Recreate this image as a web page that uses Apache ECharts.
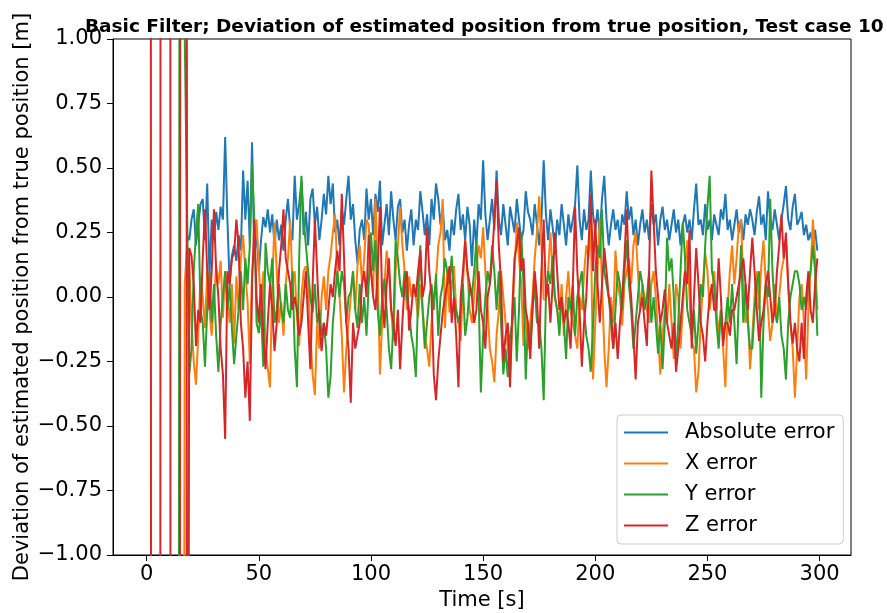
<!DOCTYPE html>
<html>
<head>
<meta charset="utf-8">
<script src="https://cdn.jsdelivr.net/npm/echarts@6/dist/echarts.min.js"></script>
<style>
  html, body { margin: 0; padding: 0; background: #fff; }
  #chart { width: 887px; height: 613px; }
</style>
</head>
<body>
<div id="chart"></div>
<script>
// one sample per second, t = 0 .. 299
var absErr = [
  5, 5, 5, 5, 5, 5, 5, 5, 5, 5,
  5, 5, 5, 5, 5, 5, 5, 5, 0.24, 0.22,
  0.3, 0.34, 0.2, 0.28, 0.36, 0.38, 0.22, 0.44, 0.08, 0.3,
  0.22, 0.33, 0.26, 0.35, 0.3, 0.62, 0.3, 0.05, 0.16, 0.2,
  0.14, 0.24, 0.18, 0.49, 0.3, 0.45, 0.2, 0.6, 0.15, 0.26,
  0.1, 0.22, 0.31, 0.27, 0.34, 0.25, 0.32, 0.2, 0.3, 0.22,
  0.28, 0.18, 0.3, 0.38, 0.26, 0.22, 0.47, 0.3, 0.36, 0.45,
  0.24, 0.33, 0.2, 0.38, 0.42, 0.28, 0.35, 0.22, 0.3, 0.4,
  0.32, 0.47, 0.36, 0.44, 0.25, 0.3, 0.2, 0.34, 0.28, 0.38,
  0.47, 0.3, 0.36, 0.22, 0.13, 0.26, 0.3, 0.22, 0.42, 0.3,
  0.38, 0.24, 0.4, 0.33, 0.45, 0.2, 0.28, 0.36, 0.24, 0.41,
  0.3, 0.22, 0.35, 0.38, 0.25, 0.3, 0.18, 0.28, 0.34, 0.2,
  0.3, 0.26, 0.41, 0.33, 0.24, 0.32, 0.2, 0.38, 0.3, 0.44,
  0.38, 0.28, 0.35, 0.22, 0.26, 0.18, 0.3, 0.24, 0.34, 0.4,
  0.26, 0.32, 0.22, 0.35, 0.28, 0.12, 0.3, 0.2, 0.36, 0.3,
  0.53, 0.32, 0.22, 0.3, 0.38, 0.26, 0.49, 0.3, 0.24, 0.36,
  0.28, 0.2, 0.35, 0.3, 0.25, 0.38, 0.3, 0.22, 0.26, 0.41,
  0.33, 0.3, 0.24, 0.36, 0.28, 0.2, 0.3, 0.53, 0.32, 0.22,
  0.34, 0.27, 0.18, 0.3, 0.24, 0.36, 0.28, 0.2, 0.32, 0.25,
  0.3, 0.36, 0.51, 0.3, 0.22, 0.34, 0.26, 0.3, 0.49, 0.32,
  0.26, 0.34, 0.24, 0.38, 0.47, 0.3, 0.2, 0.28, 0.34, 0.26,
  0.3, 0.22, 0.32, 0.28, 0.41, 0.3, 0.35, 0.24, 0.3, 0.2,
  0.28, 0.34, 0.25, 0.3, 0.22, 0.36, 0.28, 0.32, 0.2, 0.3,
  0.35, 0.26, 0.3, 0.22, 0.28, 0.34, 0.25, 0.3, 0.2, 0.28,
  0.32, 0.25, 0.3, 0.22, 0.34, 0.44, 0.28, 0.3, 0.24, 0.36,
  0.26, 0.3, 0.22, 0.32, 0.28, 0.24, 0.34, 0.3, 0.4, 0.26,
  0.3, 0.22, 0.28, 0.34, 0.25, 0.3, 0.22, 0.32, 0.28, 0.34,
  0.3, 0.24, 0.33, 0.39, 0.28, 0.32, 0.22, 0.41, 0.3, 0.26,
  0.34, 0.28, 0.22, 0.3, 0.36, 0.43, 0.3, 0.26, 0.35, 0.4,
  0.28, 0.3, 0.33, 0.24, 0.28, 0.22, 0.25, 0.2, 0.26, 0.18
];
var xErr = [
  -5, -5, -5, -5, -5, -5, -5, -5, -5, -5,
  -5, -5, -5, -5, -5, -5, -5, 0.05, 0.2, 0.13,
  -0.1, -0.25, -0.34, -0.15, 0.08, 0.0, -0.12, 0.1, -0.05, -0.15,
  -0.02, 0.12, 0.05, 0.14, -0.08, 0.1, 0.0, -0.1, 0.05, -0.18,
  0.08, -0.05, 0.15, 0.24, 0.1, -0.02, -0.26, 0.1, 0.18, 0.3,
  0.12, -0.05, 0.1, -0.2, -0.28, -0.35, 0.05, 0.29, 0.1, -0.1,
  -0.02, -0.15, 0.05, 0.15, 0.3, 0.05, 0.1, -0.08, -0.19, 0.0,
  0.1, 0.12, 0.08, -0.15, -0.3, -0.38, -0.1, -0.2, 0.0, 0.08,
  -0.05, 0.1, 0.16, 0.25, 0.32, 0.1, 0.0, -0.15, -0.37, -0.2,
  -0.1, 0.0, 0.1, -0.05, 0.12, 0.2, 0.05, 0.15, 0.3, 0.28,
  0.1, 0.02, 0.38, 0.1, -0.3, -0.1, 0.05, 0.18, 0.1, -0.05,
  -0.17, 0.1, 0.2, 0.35, 0.2, 0.1, -0.05, 0.08, 0.0, 0.05,
  0.0, -0.08, 0.05, -0.04, -0.15, -0.2, -0.27, -0.1, 0.0, 0.07,
  0.2, 0.25, 0.38, -0.12, 0.1, -0.06, 0.05, 0.12, -0.05, -0.1,
  -0.17, 0.05, 0.22, 0.1, -0.05, -0.1, 0.0, 0.12, 0.2, 0.15,
  0.27, 0.1, -0.04, -0.2, -0.25, -0.33, -0.15, -0.05, 0.1, 0.0,
  -0.1, -0.2, -0.32, -0.1, 0.1, 0.29, 0.15, 0.05, -0.19, -0.05,
  -0.2, -0.1, 0.0, 0.15, 0.25, 0.39, 0.2, -0.01, -0.01, 0.1,
  0.25, 0.1, 0.0, -0.05, -0.1, 0.05, -0.15, 0.0, 0.1, -0.06,
  -0.1, -0.15, -0.2, 0.0, -0.05, 0.09, 0.2, 0.15, 0.3, -0.32,
  -0.1, 0.1, 0.3, 0.05, -0.2, -0.35, -0.2, 0.0, -0.1, 0.18,
  0.05, 0.0, -0.11, 0.05, 0.1, 0.15, 0.05, 0.2, 0.25, 0.1,
  -0.05, 0.05, 0.0, -0.05, -0.1, 0.05, 0.1, 0.0, -0.15, -0.3,
  -0.15, -0.05, -0.1, 0.05, -0.1, -0.24, 0.05, 0.0, -0.2, -0.05,
  0.1, 0.22, 0.0, -0.17, -0.2, -0.37, -0.29, -0.1, 0.05, 0.17,
  0.1, -0.05, 0.02, 0.1, -0.05, -0.14, -0.05, -0.2, -0.35, -0.05,
  0.1, 0.2, 0.05, 0.15, 0.28, 0.3, 0.05, -0.1, -0.05, -0.28,
  -0.15, 0.0, 0.1, -0.05, 0.12, 0.22, 0.05, -0.05, -0.17, -0.1,
  0.05, -0.1, 0.0, 0.1, 0.15, 0.22, 0.05, -0.1, -0.2, -0.39,
  -0.2, 0.0, 0.05, -0.1, -0.32, -0.05, 0.1, 0.3, 0.15, -0.05
];
var yErr = [
  -5, -5, -5, -5, -5, -5, -5, -5, -5, -5,
  -5, -5, -5, -5, -5, 5, 5, 1.0, 0.35, -0.3,
  -0.2, 0.1, 0.25, 0.36, -0.05, -0.1, -0.27, -0.05, 0.1, -0.1,
  0.05, -0.15, -0.29, -0.1, 0.0, 0.1, -0.05, 0.05, -0.12, -0.26,
  -0.15, -0.05, 0.1, -0.05, 0.15, 0.05, 0.2, 0.52, 0.3, -0.1,
  -0.14, -0.05, -0.27, 0.21, 0.1, 0.05, 0.15, -0.1, -0.05, 0.05,
  -0.05, -0.1, 0.05, -0.05, -0.08, 0.1, -0.2, -0.35, 0.15, 0.47,
  0.3, 0.2, 0.1, 0.0, -0.06, 0.05, -0.1, -0.05, -0.15, -0.1,
  -0.2, -0.39, -0.31, -0.1, 0.0, 0.1, 0.0, 0.1, 0.05, -0.1,
  0.0, 0.02, 0.1, -0.05, -0.12, 0.05, -0.1, 0.0, -0.15, 0.05,
  0.25, 0.1, 0.22, -0.05, -0.15, 0.0, 0.07, -0.05, -0.2, -0.28,
  -0.1, 0.22, 0.15, 0.05, 0.0, 0.1, 0.0, -0.05, -0.15, -0.2,
  -0.31, 0.0, 0.2, -0.05, -0.2, -0.1, 0.0, 0.05, -0.05, 0.09,
  -0.15, 0.0, 0.05, 0.15, 0.1, 0.05, 0.16, 0.0, -0.05, -0.1,
  -0.05, 0.05, -0.15, -0.08, 0.05, 0.0, 0.1, 0.22, 0.0, -0.37,
  -0.15, 0.0, 0.1, 0.05, 0.2, 0.1, -0.05, 0.1, -0.1, -0.3,
  -0.2, -0.31, -0.15, -0.1, 0.0, -0.25, -0.05, 0.25, 0.05, -0.32,
  -0.1, -0.2, -0.05, 0.05, -0.1, -0.1, -0.2, -0.4, 0.0, 0.1,
  0.05, 0.16, 0.0, -0.05, -0.15, 0.0, -0.1, -0.24, 0.0, -0.05,
  0.05, -0.15, 0.0, 0.05, 0.1, -0.05, -0.15, -0.2, -0.29, -0.11,
  0.1, 0.2, 0.15, 0.34, 0.1, 0.05, 0.0, -0.1, -0.2, -0.05,
  0.1, 0.05, -0.05, 0.1, 0.22, 0.05, -0.05, -0.2, -0.1, 0.0,
  0.1, 0.05, -0.05, 0.0, 0.1, -0.1, 0.0, -0.1, -0.22, -0.1,
  -0.28, -0.1, 0.23, 0.1, 0.15, 0.0, -0.25, -0.1, 0.1, 0.29,
  0.15, -0.05, -0.1, -0.15, -0.05, -0.22, -0.1, 0.05, 0.0, 0.2,
  0.35, 0.47, 0.1, 0.05, -0.1, -0.2, -0.05, -0.15, -0.1, 0.0,
  -0.1, 0.05, -0.1, -0.26, 0.0, 0.2, -0.1, 0.05, -0.1, -0.2,
  -0.2, -0.05, 0.05, 0.1, -0.39, -0.1, 0.05, 0.0, 0.38, 0.1,
  -0.05, -0.1, 0.0, -0.15, -0.2, -0.32, -0.1, 0.0, 0.05, 0.1,
  0.1, 0.05, -0.05, 0.0, -0.05, 0.05, 0.1, 0.2, 0.1, -0.15
];
var zErr = [
  30, 30, -3, -30, -30, -30, -5, 30, 30, 30,
  30, -20, -20, -20, -20, 2, 30, 30, -5, 0.19,
  0.16, 0.05, -0.19, -0.05, -0.1, 0.15, 0.34, 0.1, -0.05, 0.1,
  0.34, 0.1, 0.0, -0.2, -0.3, -0.55, 0.1, 0.05, 0.15, 0.17,
  0.3, 0.2, -0.1, -0.2, -0.39, -0.25, -0.48, 0.05, 0.3, 0.0,
  -0.1, 0.05, -0.15, -0.28, -0.1, 0.05, -0.05, -0.21, -0.1, 0.1,
  0.2, 0.34, 0.15, 0.1, 0.05, -0.05, 0.0, -0.05, -0.15, -0.1,
  0.0, 0.1, -0.1, -0.28, 0.05, 0.3, 0.1, -0.1, -0.21, -0.1,
  -0.15, -0.05, 0.05, 0.0, 0.1, 0.18, 0.1, 0.4, 0.15, -0.1,
  -0.2, -0.41, -0.1, -0.2, -0.15, -0.1, 0.05, 0.1, 0.0, 0.24,
  0.1, 0.0, -0.05, 0.1, 0.35, 0.0, -0.12, 0.05, 0.15, -0.05,
  -0.1, -0.19, -0.05, -0.28, -0.1, 0.05, 0.1, -0.13, -0.05, 0.05,
  0.0, 0.1, 0.18, 0.0, 0.05, 0.27, 0.1, 0.0, -0.3, -0.4,
  -0.25, -0.15, -0.06, 0.0, 0.05, 0.12, -0.1, 0.0, -0.15, -0.35,
  0.0, 0.1, 0.22, 0.1, 0.05, 0.0, -0.1, -0.05, 0.1, -0.05,
  -0.1, -0.2, 0.0, 0.05, 0.15, 0.3, 0.45, 0.2, 0.05, -0.25,
  -0.15, -0.1, -0.35, -0.05, 0.15, 0.2, 0.27, 0.1, 0.15, -0.05,
  -0.1, -0.24, -0.05, 0.1, 0.0, -0.2, 0.1, 0.3, 0.0, 0.05,
  -0.1, 0.05, 0.25, 0.1, -0.05, 0.0, -0.1, -0.05, -0.1, -0.2,
  0.05, 0.35, 0.1, -0.05, -0.27, -0.1, 0.0, 0.2, 0.4, 0.1,
  0.3, 0.05, -0.1, 0.05, 0.19, 0.1, 0.0, -0.05, -0.2, -0.1,
  -0.24, -0.1, 0.0, 0.15, 0.34, 0.1, 0.0, -0.15, -0.32, -0.1,
  -0.05, 0.0, -0.1, -0.19, 0.1, 0.49, 0.3, 0.1, 0.0, -0.1,
  -0.05, 0.03, -0.1, -0.15, -0.2, -0.1, -0.29, -0.2, -0.1, 0.0,
  0.1, 0.05, 0.26, -0.2, 0.0, 0.19, 0.05, -0.1, -0.15, -0.25,
  -0.1, 0.0, 0.05, -0.05, -0.05, 0.15, 0.0, -0.19, -0.1, -0.1,
  -0.15, -0.05, -0.05, 0.0, 0.05, 0.1, 0.15, 0.05, -0.05, 0.1,
  0.23, 0.1, -0.05, -0.17, -0.1, -0.05, 0.05, 0.1, 0.0, -0.1,
  -0.05, 0.1, 0.2, 0.32, 0.15, 0.25, 0.05, -0.1, -0.18, -0.1,
  -0.2, -0.25, -0.1, -0.24, 0.0, 0.1, -0.05, -0.1, 0.05, 0.15
];
var seriesNames = ['Absolute error', 'X error', 'Y error', 'Z error'];
var colors = ['#1f77b4', '#ff7f0e', '#2ca02c', '#d62728'];
var xTicks = [0, 50, 100, 150, 200, 250, 300];

function toPairs(arr) {
  var out = [];
  for (var i = 0; i < arr.length; i++) {
    out.push([i, arr[i]]);
  }
  return out;
}

var font = 'DejaVu Sans';
var myChart = echarts.init(document.getElementById('chart'));
var allData = [absErr, xErr, yErr, zErr];
var series = [];
for (var k = 0; k < 4; k++) {
  series.push({
    name: seriesNames[k],
    type: 'line',
    symbol: 'none',
    data: toPairs(allData[k]),
    lineStyle: { width: 2, color: colors[k] },
    itemStyle: { color: colors[k] },
    clip: true
  });
}

var option = {
  animation: false,
  backgroundColor: '#fff',
  title: {
    text: 'Basic Filter; Deviation of estimated position from true position, Test case 10',
    left: 80,
    top: 13,
    textStyle: { fontFamily: font, fontSize: 18.5, fontWeight: 'bold', color: '#000' }
  },
  grid: {
    left: 113, right: 36, top: 39, bottom: 58,
    containLabel: false,
    outerBoundsMode: 'none',
    show: true,
    borderColor: '#000',
    borderWidth: 1
  },
  legend: {
    orient: 'vertical',
    left: 617,
    top: 415,
    icon: 'path://M0,0 L44,0 L44,2 L0,2 Z',
    itemWidth: 44,
    itemHeight: 21,
    itemGap: 10,
    padding: [7, 9, 8, 7],
    backgroundColor: 'rgba(255,255,255,0.8)',
    borderColor: '#cccccc',
    borderWidth: 1,
    borderRadius: 4,
    textStyle: { fontFamily: font, fontSize: 21, color: '#000', padding: [0, 0, 0, 12] },
    data: seriesNames
  },
  xAxis: {
    type: 'value',
    min: -15,
    max: 314,
    name: 'Time [s]',
    nameLocation: 'middle',
    nameGap: 30,
    nameTextStyle: { fontFamily: font, fontSize: 21, color: '#000' },
    axisLine: { show: true, onZero: false, lineStyle: { color: '#000' } },
    axisTick: { show: true, length: 6, lineStyle: { color: '#000' }, customValues: xTicks },
    axisLabel: { fontFamily: font, fontSize: 21, color: '#000', margin: 9, customValues: xTicks },
    splitLine: { show: false }
  },
  yAxis: {
    type: 'value',
    min: -1,
    max: 1,
    interval: 0.25,
    name: 'Deviation of estimated position from true position [m]',
    nameLocation: 'middle',
    nameGap: 80,
    nameMoveOverlap: false,
    nameTextStyle: { fontFamily: font, fontSize: 21, color: '#000' },
    axisLine: { show: true, onZero: false, lineStyle: { color: '#000' } },
    axisTick: { show: true, length: 6, lineStyle: { color: '#000' } },
    axisLabel: {
      fontFamily: font, fontSize: 21, color: '#000', margin: 11,
      formatter: function (v) {
        var s = Math.abs(v).toFixed(2);
        return v < 0 ? '\u2212' + s : s;
      }
    },
    splitLine: { show: false }
  },
  series: series
};
myChart.setOption(option);
</script>
</body>
</html>
